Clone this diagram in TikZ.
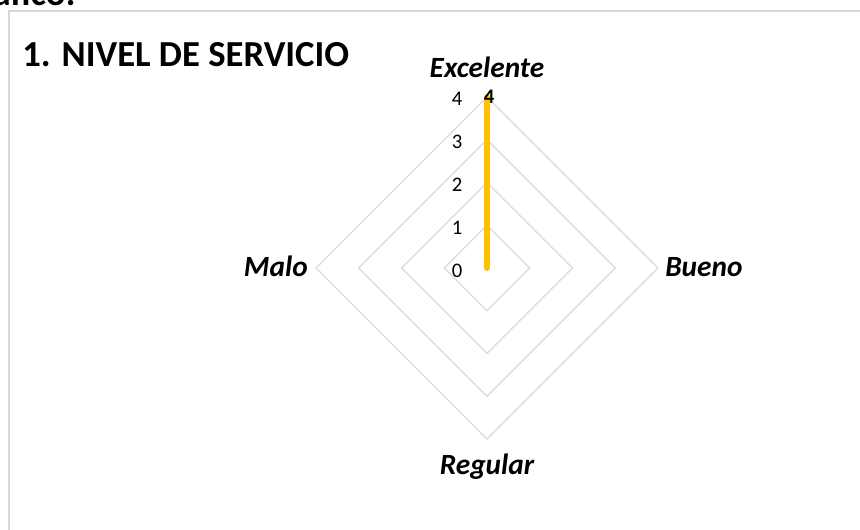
\documentclass[tikz,border=0pt]{standalone}
\usepackage{fontspec}
\setmainfont{Carlito}
\definecolor{gridgray}{RGB}{217, 217, 217}
\definecolor{framegray}{RGB}{216, 216, 216}
\definecolor{serieyellow}{RGB}{255, 192, 0}
\usepackage{tikz}
\usetikzlibrary{positioning, calc}

\tikzset{
  axislabel/.style={font=\fontsize{22}{24}\selectfont\bfseries\itshape, inner sep=0pt},
  ticklabel/.style={font=\fontsize{15.5}{17}\selectfont, inner sep=0pt, anchor=base},
  ring/.style={draw=gridgray, line width=1pt}
}

\begin{document}
\begin{tikzpicture}[x=0.75pt, y=0.75pt]
  \useasboundingbox (0, 0) rectangle (860, 529);

  % Chart frame
  \draw[framegray, line width=1.5pt] (9, -10) |- (880, 518);

  % Heading above the frame (cut off)
  \node[font=\fontsize{27.5}{30}\selectfont\bfseries, inner sep=0pt, anchor=base east] (heading) at (76, 523) {Gráfico:};

  % Chart title
  \node[font=\fontsize{27.5}{30}\selectfont\bfseries, inner sep=0pt, anchor=base west] (title) at (22, 462) {1. NIVEL DE SERVICIO};

  % Radar grid
  \coordinate (center) at (487, 261);
  \draw[ring] (487, 303.75) -- (529.75, 261) -- (487, 218.25) -- (444.25, 261) -- cycle;
  \draw[ring] (487, 346.5) -- (572.5, 261) -- (487, 175.5) -- (401.5, 261) -- cycle;
  \draw[ring] (487, 389.25) -- (615.25, 261) -- (487, 132.75) -- (358.75, 261) -- cycle;
  \draw[ring] (487, 432) -- (658, 261) -- (487, 90) -- (316, 261) -- cycle;

  % Axis labels
  \node[axislabel, anchor=base] (excelente) at (487, 451) {Excelente};
  \node[axislabel, anchor=base west] (bueno) at (665, 252.5) {Bueno};
  \node[axislabel, anchor=base] (regular) at (487, 55) {Regular};
  \node[axislabel, anchor=base east] (malo) at (308, 252.5) {Malo};

  % Scale
  \node[ticklabel] (tick0) at (457, 252) {0};
  \node[ticklabel] (tick1) at (457, 294.75) {1};
  \node[ticklabel] (tick2) at (457, 337.5) {2};
  \node[ticklabel] (tick3) at (457, 380.25) {3};
  \node[ticklabel] (tick4) at (457, 423) {4};

  % Data series
  \coordinate (peak) at (487, 432);
  \draw[serieyellow, line width=4.5pt, line cap=round] (center) -- (peak);
  \node[font=\fontsize{15.5}{17}\selectfont\bfseries, inner sep=0pt, anchor=base] (value) at (489, 425) {4};
\end{tikzpicture}
\end{document}
